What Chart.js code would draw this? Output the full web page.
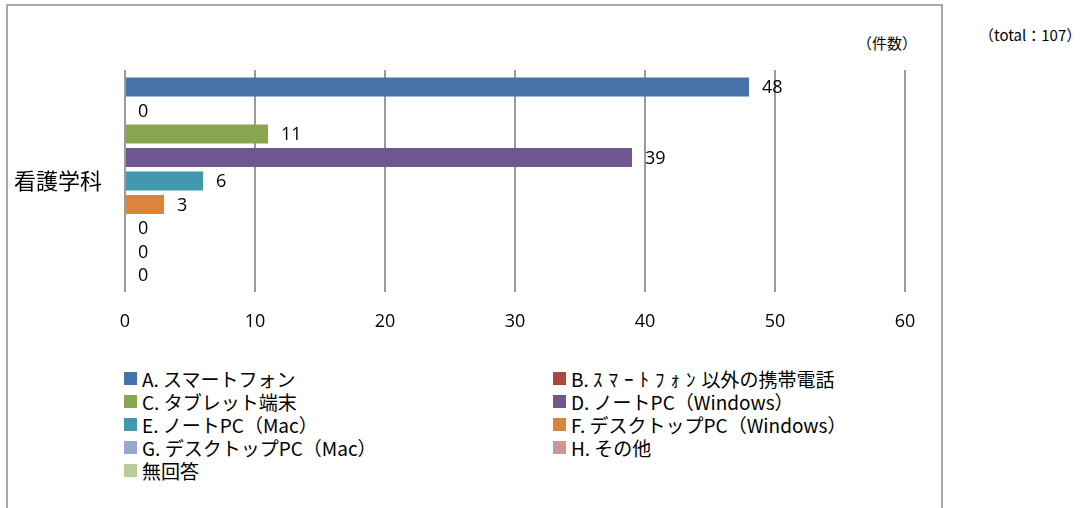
<!DOCTYPE html>
<html>
<head>
<meta charset="utf-8">
<script src="https://cdn.jsdelivr.net/npm/chart.js@4"></script>
<style>
    html, body { margin: 0; padding: 0; background: #fff; overflow: hidden; }
    body { width: 1092px; height: 508px; position: relative; font-family: "Noto Sans CJK JP", sans-serif; }
    #frame { position: absolute; left: 6px; top: 4px; width: 937px; height: 560px; border: 2px solid #a8a8a8; box-sizing: border-box; }
    #chartBox { position: absolute; left: 0; top: 0; width: 1092px; height: 345px; }
    .note { position: absolute; font-size: 15px; color: #000; white-space: nowrap; line-height: 16px; }
    #legend { position: absolute; left: 124px; top: 367px; display: grid; grid-template-columns: 429px 429px; }
    .item { display: flex; align-items: center; height: 23px; font-size: 19px; color: #000; white-space: nowrap; }
    .swatch { width: 13px; height: 13px; margin-right: 5px; flex: none; }
    .hw { letter-spacing: 6px; }
</style>
</head>
<body>
<div id="frame"></div>
<div class="note" style="left:857px; top:35px;">（件数）</div>
<div class="note" style="left:979px; top:27px;">（total：107）</div>
<div id="chartBox"><canvas id="rankChart" width="1092" height="345"></canvas></div>
<div id="legend"></div>
<script>
    "use strict";

    // dữ liệu
    var categories = ['看護学科'];
    var seriesNames = [
        'A. スマートフォン',
        'B. ｽﾏｰﾄﾌｫﾝ以外の携帯電話',
        'C. タブレット端末',
        'D. ノートPC（Windows）',
        'E. ノートPC（Mac）',
        'F. デスクトップPC（Windows）',
        'G. デスクトップPC（Mac）',
        'H. その他',
        '無回答'
    ];
    var seriesValues = [48, 0, 11, 39, 6, 3, 0, 0, 0];
    var seriesColors = ['#4674a8', '#aa4644', '#8aa54f', '#71578f', '#4198af', '#db843d', '#93a9cf', '#d09493', '#b9cd96'];
    var xTicks = [0, 10, 20, 30, 40, 50, 60];

    var numFont = '"Open Sans", "DejaVu Sans", sans-serif';

    function renderLegend() {
        var box = document.getElementById('legend');
        seriesNames.forEach(function (name, i) {
            var item = document.createElement('div');
            item.className = 'item';
            var sw = document.createElement('span');
            sw.className = 'swatch';
            sw.style.background = seriesColors[i];
            var txt = document.createElement('span');
            // kana nửa độ rộng giãn ra một chút
            name.split(/([\uFF61-\uFF9F]+)/).forEach(function (part, k) {
                if (!part) {
                    return;
                }
                if (k % 2 === 1) {
                    var s = document.createElement('span');
                    s.className = 'hw';
                    s.textContent = part;
                    txt.appendChild(s);
                } else {
                    txt.appendChild(document.createTextNode(part));
                }
            });
            item.appendChild(sw);
            item.appendChild(txt);
            box.appendChild(item);
        });
    }

    // nhãn giá trị bên phải thanh
    var valueLabels = {
        id: 'valueLabels',
        afterDatasetsDraw: function (chart) {
            var ctx = chart.ctx;
            ctx.save();
            ctx.font = '18px ' + numFont;
            ctx.fillStyle = '#000';
            ctx.textAlign = 'left';
            ctx.textBaseline = 'middle';
            chart.data.datasets.forEach(function (ds, i) {
                var meta = chart.getDatasetMeta(i);
                meta.data.forEach(function (bar, j) {
                    ctx.fillText(String(ds.data[j]), bar.x + 13, bar.y + 1);
                });
            });
            ctx.restore();
        }
    };

    function renderChart() {
        var ctx = document.getElementById('rankChart').getContext('2d');
        var datasets = seriesNames.map(function (name, i) {
            return {
                label: name,
                data: [seriesValues[i]],
                backgroundColor: seriesColors[i],
                borderWidth: 0,
                categoryPercentage: 0.953,
                barPercentage: 0.81
            };
        });

        new Chart(ctx, {
            type: 'bar',
            data: { labels: categories, datasets: datasets },
            plugins: [valueLabels],
            options: {
                indexAxis: 'y',
                responsive: false,
                animation: false,
                layout: { padding: { top: 70, right: 187, left: 0, bottom: 0 } },
                plugins: {
                    legend: { display: false },
                    tooltip: { enabled: false }
                },
                scales: {
                    x: {
                        min: xTicks[0],
                        max: xTicks[xTicks.length - 1],
                        afterBuildTicks: function (scale) {
                            scale.ticks = xTicks.map(function (v) { return { value: v }; });
                        },
                        afterFit: function (scale) { scale.height = 53; },
                        grid: { color: '#9a9a9a', lineWidth: 2, drawTicks: false },
                        border: { display: false },
                        ticks: {
                            padding: 19,
                            color: '#000',
                            font: { size: 18, family: numFont }
                        }
                    },
                    y: {
                        afterFit: function (scale) { scale.width = 125; },
                        grid: { display: false, drawTicks: false },
                        border: { display: false },
                        ticks: {
                            padding: 23,
                            color: '#000',
                            font: { size: 22, family: '"Noto Sans CJK JP", sans-serif' }
                        }
                    }
                }
            }
        });
    }

    renderLegend();
    renderChart();
</script>
</body>
</html>
